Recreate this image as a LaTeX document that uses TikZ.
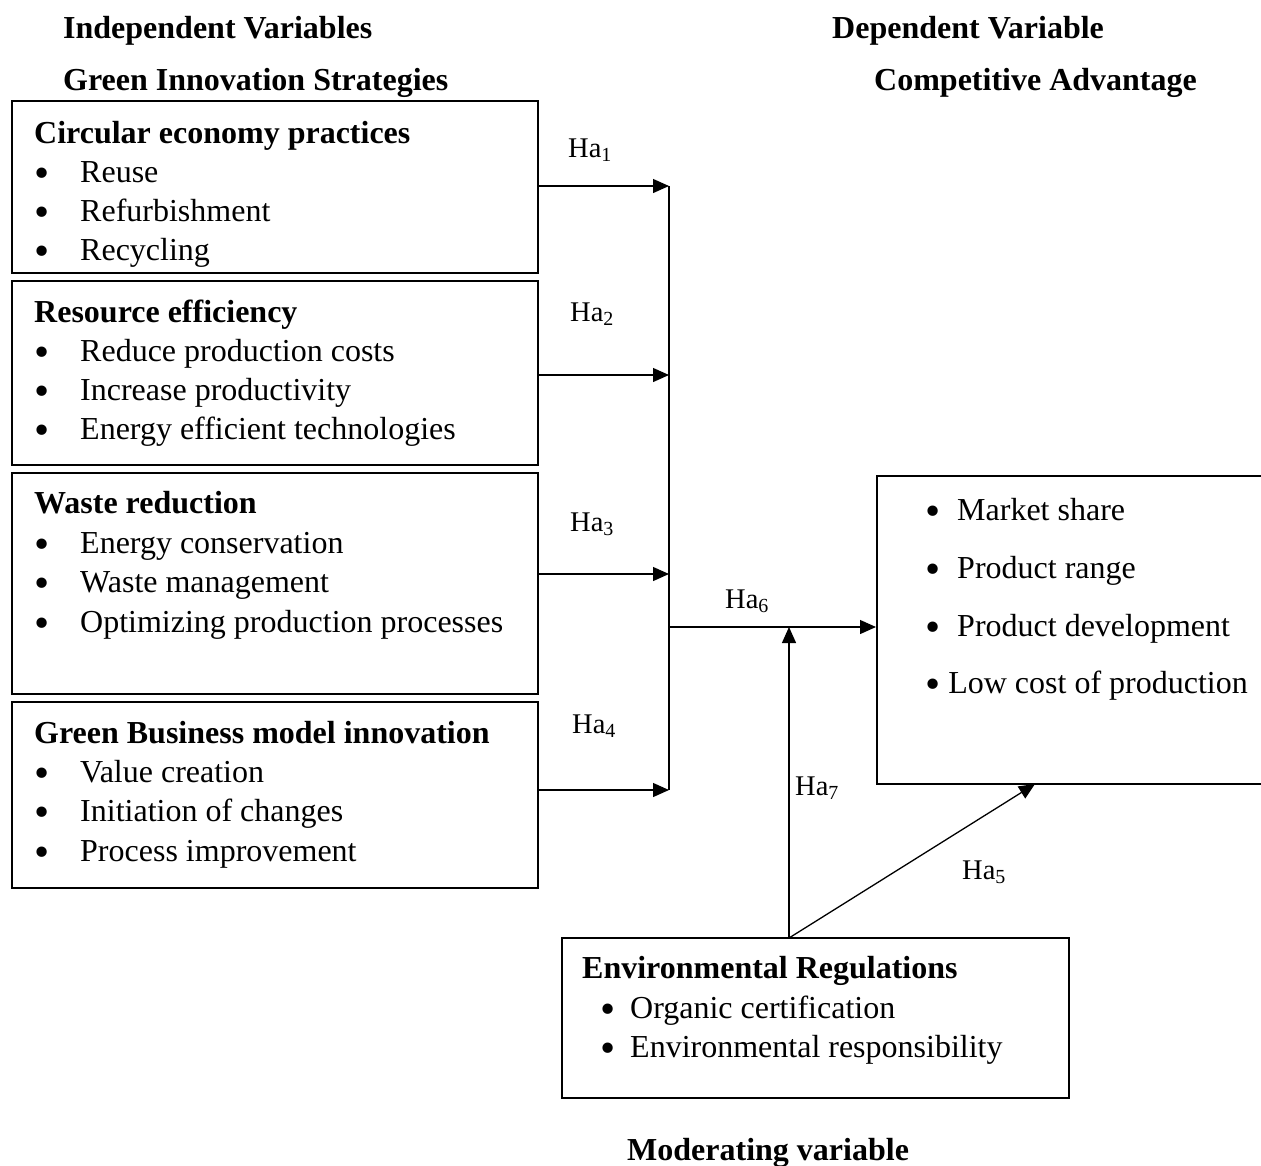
\documentclass[tikz,border=0pt]{standalone}
\usepackage{fontspec}
\setmainfont{Liberation Serif}
\usepackage{graphicx}
\usepackage{tikz}
\usetikzlibrary{arrows.meta}
\newcommand{\dotb}{\raisebox{-0.17em}{\scalebox{1.35}{\textbullet}}}
\newcommand{\blt}[2][46pt]{\makebox[#1][l]{\dotb}#2}

\begin{document}
\begin{tikzpicture}[x=1pt, y=-1pt,
  txt/.style={anchor=base west, inner sep=0pt, font=\fontsize{32}{39}\selectfont},
  hd/.style={txt, font=\fontsize{32}{39}\selectfont\bfseries},
  lbl/.style={txt, font=\fontsize{28.5}{39}\selectfont},
  box/.style={draw, line width=2pt, inner sep=0pt},
  line/.style={line width=1.3pt},
  conn/.style={line, -{Triangle[length=16pt,width=14pt]}}]
\useasboundingbox (0,0) rectangle (1261,1165);

\node[hd] (iv) at (63,38) {Independent Variables};
\node[hd] (gis) at (63,90) {Green Innovation Strategies};
\node[hd] (dvt) at (832,38) {Dependent Variable};
\node[hd] (ca) at (874,90) {Competitive Advantage};

\node[box, minimum width=526pt, minimum height=172pt] (b1) at (275,187) {};
\node[box, minimum width=526pt, minimum height=184pt] (b2) at (275,373) {};
\node[box, minimum width=526pt, minimum height=221pt] (b3) at (275,583.5) {};
\node[box, minimum width=526pt, minimum height=186pt] (b4) at (275,795) {};
\node[box, minimum width=423pt, minimum height=308pt] (dv) at (1088.5,630) {};
\node[box, minimum width=507pt, minimum height=160pt] (er) at (815.5,1018) {};

\node[hd] (t1) at (34,143) {Circular economy practices};
\node[txt] (t11) at (34,182) {\blt{Reuse}};
\node[txt] (t12) at (34,221) {\blt{Refurbishment}};
\node[txt] (t13) at (34,260) {\blt{Recycling}};

\node[hd] (t2) at (34,322) {Resource efficiency};
\node[txt] (t21) at (34,361) {\blt{Reduce production costs}};
\node[txt] (t22) at (34,400) {\blt{Increase productivity}};
\node[txt] (t23) at (34,439) {\blt{Energy efficient technologies}};

\node[hd] (t3) at (34,513) {Waste reduction};
\node[txt] (t31) at (34,553) {\blt{Energy conservation}};
\node[txt] (t32) at (34,592) {\blt{Waste management}};
\node[txt] (t33) at (34,632) {\blt{Optimizing production processes}};

\node[hd] (t4) at (34,743) {Green Business model innovation};
\node[txt] (t41) at (34,782) {\blt{Value creation}};
\node[txt] (t42) at (34,821) {\blt{Initiation of changes}};
\node[txt] (t43) at (34,861) {\blt{Process improvement}};

\node[txt] (d1) at (925,520) {\blt[32pt]{Market share}};
\node[txt] (d2) at (925,578) {\blt[32pt]{Product range}};
\node[txt] (d3) at (925,636) {\blt[32pt]{Product development}};
\node[txt] (d4) at (925,693) {\dotb{} Low cost of production};

\node[hd] (te) at (582,978) {Environmental Regulations};
\node[txt] (e1) at (600,1018) {\blt[30pt]{Organic certification}};
\node[txt] (e2) at (600,1057) {\blt[30pt]{Environmental responsibility}};

\node[hd] (mv) at (627,1160) {Moderating variable};

\coordinate (j1) at (669,186);
\coordinate (j2) at (669,375);
\coordinate (j3) at (669,574);
\coordinate (j4) at (669,790);
\coordinate (j6) at (669,627);
\coordinate (mo) at (789,938);
\coordinate (h5) at (1035,784);

\draw[conn] (j1 -| b1.east) -- (j1);
\draw[conn] (j2 -| b2.east) -- (j2);
\draw[conn] (j3 -| b3.east) -- (j3);
\draw[conn] (j4 -| b4.east) -- (j4);
\draw[line] (j1) -- (j4);
\draw[conn] (j6) -- (j6 -| dv.west);
\draw[conn] (mo) -- (mo |- j6);
\draw[conn] (mo) -- (h5);

\node[lbl] (ha1) at (568,157) {Ha\textsubscript{1}};
\node[lbl] (ha2) at (570,321) {Ha\textsubscript{2}};
\node[lbl] (ha3) at (570,531) {Ha\textsubscript{3}};
\node[lbl] (ha4) at (572,733) {Ha\textsubscript{4}};
\node[lbl] (ha6) at (725,608) {Ha\textsubscript{6}};
\node[lbl] (ha7) at (795,795) {Ha\textsubscript{7}};
\node[lbl] (ha5) at (962,879) {Ha\textsubscript{5}};
\end{tikzpicture}
\end{document}
